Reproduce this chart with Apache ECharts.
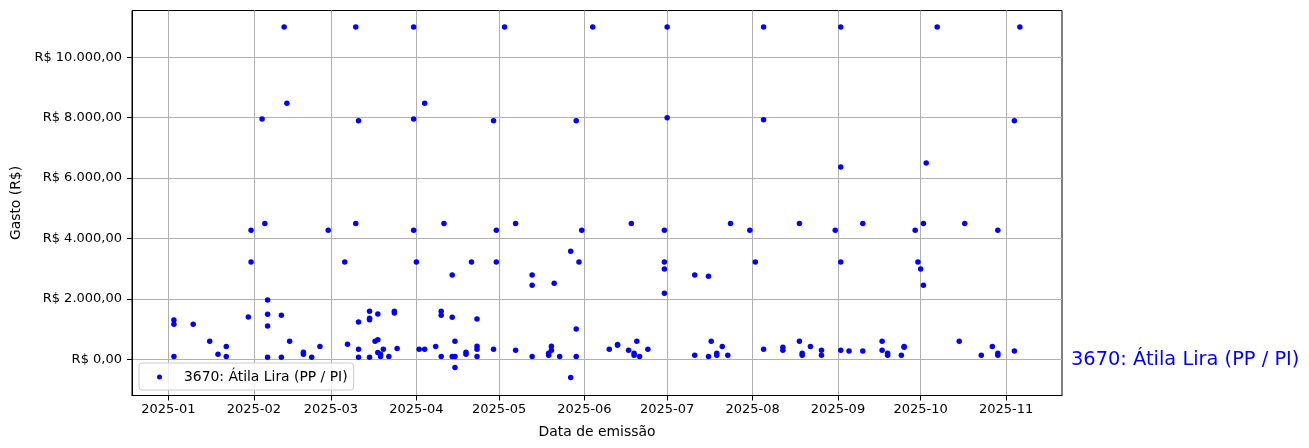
<!DOCTYPE html>
<html>
<head>
<meta charset="utf-8">
<script src="https://cdn.jsdelivr.net/npm/echarts@6/dist/echarts.min.js"></script>
<style>
html,body{margin:0;padding:0;background:#fff;}
#chart{width:1309px;height:448px;}
</style>
</head>
<body>
<div id="chart"></div>
<script>
const seriesName = '3670: Átila Lira (PP / PI)';
const dates = [
'2025-01-03','2025-01-03','2025-01-03','2025-01-10','2025-01-16','2025-01-19','2025-01-22','2025-01-22','2025-01-30','2025-01-31','2025-01-31',
'2025-02-04','2025-02-05','2025-02-06','2025-02-06','2025-02-06','2025-02-06','2025-02-11','2025-02-11','2025-02-12','2025-02-13','2025-02-14',
'2025-02-19','2025-02-19','2025-02-22','2025-02-25','2025-02-28',
'2025-03-06','2025-03-07','2025-03-10','2025-03-10','2025-03-11','2025-03-11','2025-03-11','2025-03-11',
'2025-03-15','2025-03-15','2025-03-15','2025-03-15','2025-03-17','2025-03-18','2025-03-18','2025-03-18','2025-03-19','2025-03-19','2025-03-20',
'2025-03-22','2025-03-24','2025-03-24','2025-03-25','2025-03-31','2025-03-31','2025-03-31',
'2025-04-01','2025-04-02','2025-04-04','2025-04-04','2025-04-08','2025-04-10','2025-04-10','2025-04-10','2025-04-11',
'2025-04-14','2025-04-14','2025-04-14','2025-04-15','2025-04-15','2025-04-15','2025-04-19','2025-04-19','2025-04-21',
'2025-04-23','2025-04-23','2025-04-23','2025-04-23','2025-04-29','2025-04-29','2025-04-30','2025-04-30',
'2025-05-03','2025-05-07','2025-05-07','2025-05-13','2025-05-13','2025-05-13','2025-05-19','2025-05-19','2025-05-20','2025-05-20',
'2025-05-21','2025-05-23','2025-05-27','2025-05-27','2025-05-29','2025-05-29','2025-05-29','2025-05-30','2025-05-31',
'2025-06-04','2025-06-10','2025-06-13','2025-06-13','2025-06-17','2025-06-18','2025-06-19','2025-06-19','2025-06-20','2025-06-21','2025-06-24',
'2025-06-30','2025-06-30','2025-06-30','2025-06-30','2025-07-01','2025-07-01',
'2025-07-11','2025-07-11','2025-07-16','2025-07-16','2025-07-17','2025-07-19','2025-07-19','2025-07-21','2025-07-23','2025-07-24','2025-07-31',
'2025-08-02','2025-08-05','2025-08-05','2025-08-05','2025-08-12','2025-08-12','2025-08-18','2025-08-18','2025-08-19','2025-08-19','2025-08-22',
'2025-08-26','2025-08-26','2025-08-31',
'2025-09-02','2025-09-02','2025-09-02','2025-09-02','2025-09-05','2025-09-10','2025-09-10','2025-09-17','2025-09-17','2025-09-19','2025-09-19',
'2025-09-24','2025-09-25','2025-09-25','2025-09-29','2025-09-30',
'2025-10-01','2025-10-02','2025-10-02','2025-10-03','2025-10-07','2025-10-15','2025-10-17','2025-10-23','2025-10-27','2025-10-29','2025-10-29','2025-10-29',
'2025-11-04','2025-11-04','2025-11-06'
];
const values = [
1300,1160,90,1160,600,170,420,90,1400,4270,3220,
7960,4500,1960,1490,1100,70,1460,70,11000,8480,600,
230,170,70,420,4270,
3220,500,11000,4500,7900,330,1230,70,
1590,1360,1310,70,600,650,1500,220,170,90,330,
90,1590,1530,360,11000,4270,7960,
3220,330,8480,330,420,1590,1460,90,4500,
2790,1390,90,90,-270,600,230,170,3220,
1330,430,330,90,7900,330,4270,3220,
11000,4500,300,2790,2450,90,200,130,430,300,
2520,90,3580,-600,7900,1000,90,3220,4270,
11000,330,490,460,300,4500,200,130,600,90,330,
2990,2190,4270,3220,11000,8000,
2790,130,2750,90,600,200,130,420,130,4500,4270,
3220,7930,11000,330,400,300,4500,600,200,130,420,
300,130,4270,
3220,11000,300,6370,270,4500,270,600,300,200,130,
130,420,400,4270,3220,
2990,4500,2450,6500,11000,600,4500,130,420,4270,200,130,
270,7900,11000
];
const monthTicks = ['2025-01-01','2025-02-01','2025-03-01','2025-04-01','2025-05-01','2025-06-01','2025-07-01','2025-08-01','2025-09-01','2025-10-01','2025-11-01'];
const yTicks = [0,2000,4000,6000,8000,10000];

function ts(s){const p=s.split('-').map(Number);return Date.UTC(p[0],p[1]-1,p[2]);}
const points = dates.map((d,i)=>[ts(d), values[i]]);
const monthTs = monthTicks.map(ts);
const xMin = Date.UTC(2024,11,18,19);
const xMax = Date.UTC(2025,10,21,7);

function brl(v){
  const neg = v<0; const a=Math.abs(v);
  const s = Math.round(a).toString().replace(/\B(?=(\d{3})+(?!\d))/g,'.');
  return (neg?'-':'')+'R$ '+s+',00';
}
function ym(v){const d=new Date(v);return d.getUTCFullYear()+'-'+String(d.getUTCMonth()+1).padStart(2,'0');}
const FONT = 'DejaVu Sans';
const chart = echarts.init(document.getElementById('chart'), null, {renderer:'canvas'});
chart.setOption({
  animation:false,
  backgroundColor:'#fff',
  grid:{left:132,right:247,top:10.5,bottom:52.5,show:true,borderColor:'#000',borderWidth:1,backgroundColor:'transparent'},
  xAxis:{
    type:'value', min:xMin, max:xMax, scale:true,
    name:'Data de emissão', nameLocation:'middle', nameGap:30,
    nameTextStyle:{fontFamily:FONT,fontSize:13.9,color:'#000'},
    axisLine:{show:true,onZero:false,lineStyle:{color:'#000',width:1}},
    axisTick:{show:true,length:5,lineStyle:{color:'#000'},customValues:monthTs},
    axisLabel:{customValues:monthTs,margin:8,fontFamily:FONT,fontSize:13,color:'#000',formatter:ym},
    splitLine:{show:true,lineStyle:{color:'#b0b0b0',width:1}}
  },
  yAxis:{
    type:'value', min:-1200, max:11550,
    name:'Gasto (R$)', nameLocation:'middle', nameGap:108,
    nameTextStyle:{fontFamily:FONT,fontSize:13.9,color:'#000'},
    axisLine:{show:true,onZero:false,lineStyle:{color:'#000',width:1}},
    axisTick:{show:true,length:5,lineStyle:{color:'#000'},customValues:yTicks},
    axisLabel:{customValues:yTicks,margin:10,fontFamily:FONT,fontSize:13,color:'#000',formatter:brl},
    splitLine:{show:true,lineStyle:{color:'#b0b0b0',width:1}}
  },
  legend:{
    left:139, top:363, orient:'horizontal',
    data:[{name:seriesName, icon:'circle'}],
    itemWidth:5, itemHeight:5,
    padding:[7,6,6,18],
    backgroundColor:'rgba(255,255,255,0.8)', borderColor:'#cccccc', borderWidth:1, borderRadius:3,
    itemStyle:{opacity:1},
    textStyle:{fontFamily:FONT,fontSize:13.9,color:'#000',padding:[0,0,0,17]}
  },
  graphic:[{type:'text', left:1071, top:350.5, style:{text:seriesName, fill:'#0000ff', font:'19.4px "DejaVu Sans"'}}],
  series:[{
    name:seriesName, type:'scatter', data:points, symbolSize:5.5,
    itemStyle:{color:'#0000ff',opacity:1}
  }]
});
</script>
</body>
</html>
